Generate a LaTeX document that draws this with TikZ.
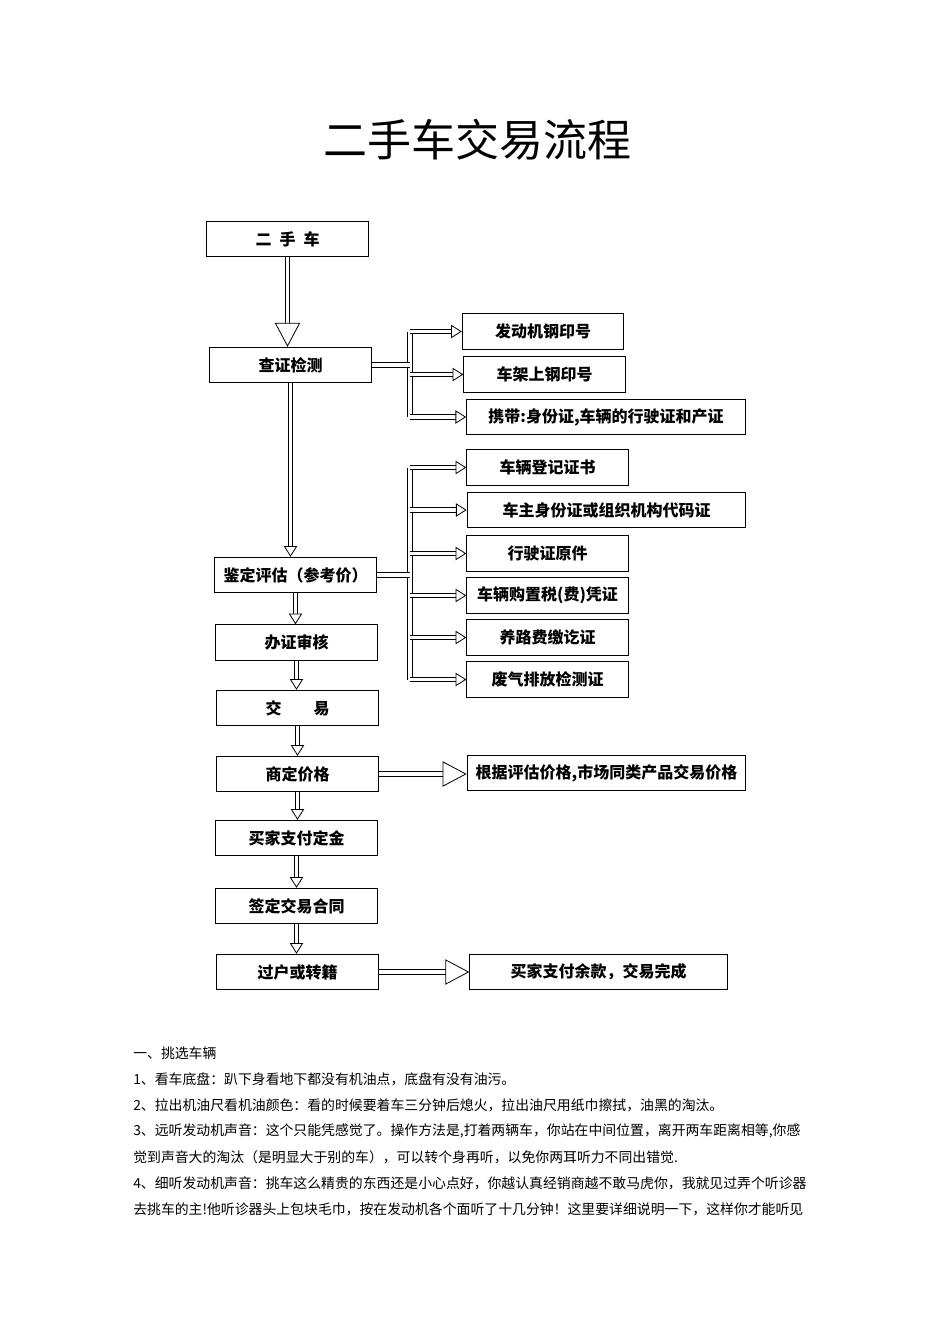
\documentclass[tikz,border=0pt]{standalone}
\usepackage{fontspec}
\usetikzlibrary{arrows.meta}
\newfontfamily\cjk{Noto Sans CJK SC}

\begin{document}
\begin{tikzpicture}[x=0.75pt, y=-0.75pt,
        box/.style={draw, line width=0.8pt, minimum height=26.5pt, minimum width=121pt, inner sep=0pt,
            font=\cjk\bfseries\fontsize{12}{14}\selectfont},
        wide/.style={box, minimum width=209pt},
        dbl/.style={double, double distance=2.6pt, line width=0.6pt},
        tip/.style={dbl, -{Triangle[open, length=8pt, width=10pt, line width=0.6pt]}},
        bigtip/.style={dbl, -{Triangle[open, length=18pt, width=19pt, line width=0.6pt]}},
        line/.style={anchor=west, inner sep=0pt, font=\cjk\fontsize{10.4}{12}\selectfont}]
        \useasboundingbox (0,0) rectangle (950,1344);

        \node[font=\cjk\fontsize{33}{36}\selectfont] (title) at (477,140) {二手车交易流程};

        % main column
        \node[box] (car) at (287.5,239) {二\hspace{0.5em}手\hspace{0.5em}车};
        \node[box, minimum width=122pt] (check) at (290.5,365) {查证检测};
        \node[box, minimum width=122pt] (assess) at (295.5,575) {鉴定评估（参考价）};
        \node[box] (approve) at (296.5,642.5) {办证审核};
        \node[box] (deal) at (297.5,708) {交\hspace{2em}易};
        \node[box] (price) at (297.5,774) {商定价格};
        \node[box] (deposit) at (296.5,838) {买家支付定金};
        \node[box] (contract) at (296.5,906) {签定交易合同};
        \node[box] (transfer) at (297.5,972) {过户或转籍};

        % right column
        \node[box] (engine) at (543,331.5) {发动机钢印号};
        \node[box] (frame) at (544.5,374.5) {车架上钢印号};
        \node[wide] (carry) at (606,417) {携带:身份证,车辆的行驶证和产证};
        \node[box] (reg) at (547.5,467.5) {车辆登记证书};
        \node[wide] (owner) at (606.5,510) {车主身份证或组织机构代码证};
        \node[box] (license) at (547.5,553.5) {行驶证原件};
        \node[box] (tax) at (547.5,595.5) {车辆购置税(费)凭证};
        \node[box] (road) at (547.5,637.5) {养路费缴讫证};
        \node[box] (exhaust) at (547.5,679.5) {废气排放检测证};
        \node[wide] (basis) at (606.5,773) {根据评估价格,市场同类产品交易价格};
        \node[box, minimum width=193pt] (finish) at (598.5,972) {买家支付余款，交易完成};

        \coordinate (bus) at (410,0);

        % arrows down
        \draw[bigtip] (car.south) -- (car.south |- check.north);
        \draw[tip] (check.south) -- (check.south |- assess.north);
        \foreach \a/\b in {assess/approve, approve/deal, deal/price, price/deposit, deposit/contract, contract/transfer}
            \draw[tip] (\a.south) -- (\a.south |- \b.north);

        % branches
        \draw[dbl] (bus |- engine.west) -- (bus |- carry.west);
        \draw[dbl] (check.east) -- (check.east -| bus);
        \foreach \n in {engine, frame, carry}
            \draw[tip] (bus |- \n.west) -- (\n.west);

        \draw[dbl] (bus |- reg.west) -- (bus |- exhaust.west);
        \draw[dbl] (assess.east) -- (assess.east -| bus);
        \foreach \n in {reg, owner, license, tax, road, exhaust}
            \draw[tip] (bus |- \n.west) -- (\n.west);

        \draw[bigtip] (price.east) -- (price.east -| basis.west);
        \draw[bigtip] (transfer.east) -- (finish.west);

        % text below
        \node[line] (t0) at (133,1053) {一、挑选车辆};
        \node[line] (t1) at (133,1079) {1、看车底盘：趴下身看地下都没有机油点，底盘有没有油污。};
        \node[line] (t2) at (133,1105) {2、拉出机油尺看机油颜色：看的时候要着车三分钟后熄火，拉出油尺用纸巾擦拭，油黑的淘汰。};
        \node[line] (t3) at (133,1131) {3、远听发动机声音：这个只能凭感觉了。操作方法是,打着两辆车，你站在中间位置，离开两车距离相等,你感};
        \node[line] (t4) at (133,1157) {觉到声音大的淘汰（是明显大于别的车），可以转个身再听，以免你两耳听力不同出错觉.};
        \node[line] (t5) at (133,1183) {4、细听发动机声音：挑车这么精贵的东西还是小心点好，你越认真经销商越不敢马虎你，我就见过弄个听诊器};
        \node[line] (t6) at (133,1209) {去挑车的主!他听诊器头上包块毛巾，按在发动机各个面听了十几分钟！这里要详细说明一下，这样你才能听见};
\end{tikzpicture}
\end{document}
